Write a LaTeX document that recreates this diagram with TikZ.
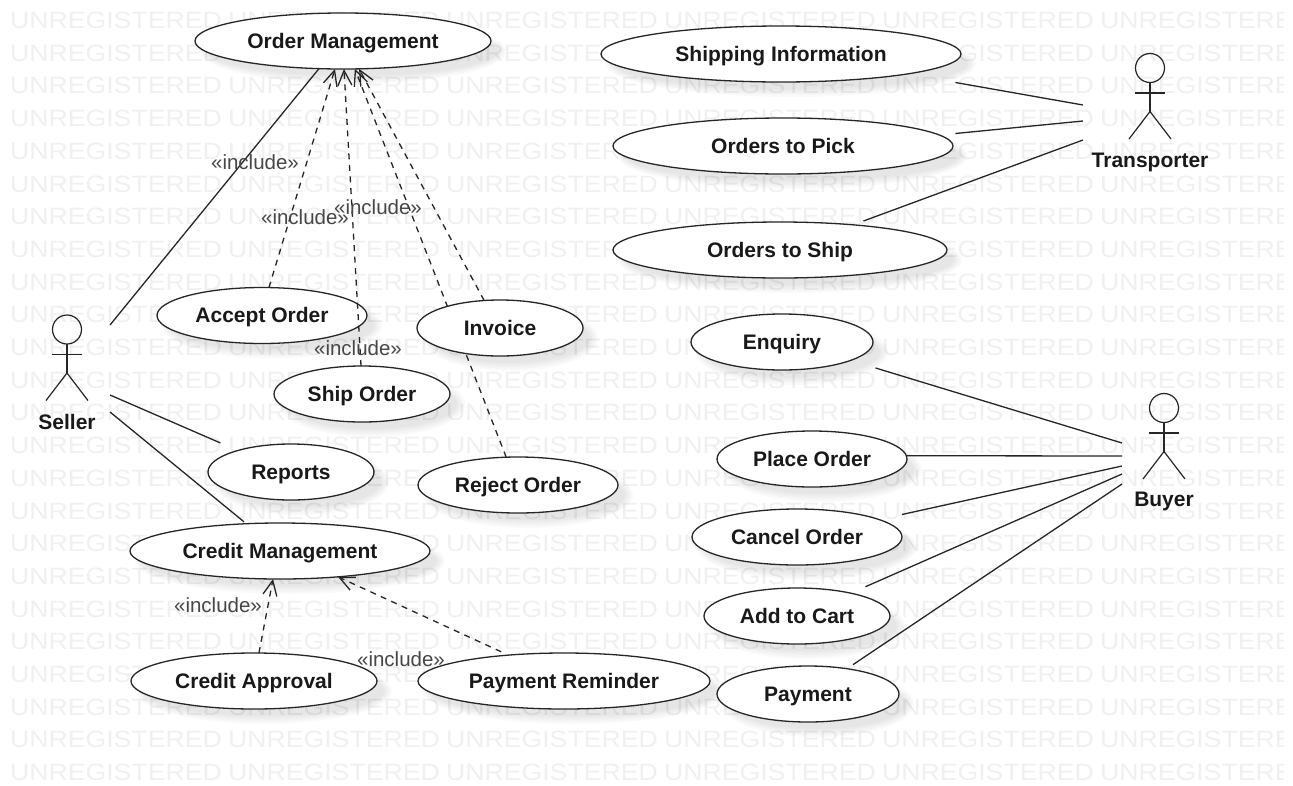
\documentclass[tikz,border=0pt]{standalone}
\usepackage{fontspec}
\setmainfont{Liberation Sans}
\newfontfamily\wmfont[FakeStretch=1.13]{Liberation Sans}
\usetikzlibrary{shapes.geometric,arrows.meta}
\pgfdeclarelayer{bg}
\pgfdeclarelayer{under}
\pgfsetlayers{bg,under,main}
\tikzset{
  wmtext/.style={inner sep=0pt,outer sep=0pt,anchor=base west,text=black!6,font=\wmfont\fontsize{23.6}{24}\selectfont},
  ucase/.style={shape=ellipse,draw=black!85,line width=1.3pt,fill=white,inner sep=0pt,outer sep=0pt,font=\bfseries\fontsize{21}{24}\selectfont,text=black!90},
  actorname/.style={inner sep=0pt,font=\bfseries\fontsize{21}{24}\selectfont,text=black!90},
  incl/.style={inner sep=0pt,text=black!72,font=\fontsize{20.5}{24}\selectfont},
  solidline/.style={draw=black!85,line width=1.3pt},
  includeline/.style={draw=black!85,line width=1.3pt,dash pattern=on 6pt off 5.5pt,-{Straight Barb[length=15pt,width=14pt,line width=1.3pt]}},
  figure/.style={draw=black!85,line width=1.2pt}
}
\newcommand{\ucnode}[6]{%
  \begin{pgfonlayer}{bg}
    \foreach \d in {5,3,1,-1,-3}{
      \fill[black,opacity=.018] ({#3+10},{#4+10}) ellipse [x radius={(#5+\d)*1pt},y radius={(#6+\d)*1pt}];
    }
  \end{pgfonlayer}
  \node[ucase,minimum width=#5*2pt,minimum height=#6*2pt] (#1) at (#3,#4) {\raisebox{-7.4pt}[0pt][0pt]{#2}};
}
\newcommand{\stickman}[2]{% cx, head cy
  \draw[figure] (#1,#2) ellipse [x radius=14.5pt,y radius=14.5pt];
  \draw[figure] (#1,#2+14.5) -- (#1,#2+43.5);
  \draw[figure] (#1-15,#2+25) -- (#1+15,#2+25);
  \draw[figure] (#1-21,#2+71) -- (#1,#2+43.5) -- (#1+21,#2+71);
}
\begin{document}
\begin{tikzpicture}[x=1pt,y=-1pt]
\useasboundingbox (0,0) rectangle (1293,785);
\begin{pgfonlayer}{bg}
  \fill[white] (0,0) rectangle (1293,785);
  \begin{scope}
    \clip (0,0) rectangle (1283,785);
    \foreach \r in {0,...,23}{
      \foreach \c in {0,...,5}{
        \node[wmtext] (wm-\r-\c) at ({10+218*\c},{28.5+32.7*\r}) {UNREGISTERED};
      }
    }
  \end{scope}
\end{pgfonlayer}

\ucnode{om}{Order Management}{343}{41}{148}{28}
\ucnode{shipinfo}{Shipping Information}{781}{54}{180}{28}
\ucnode{pick}{Orders to Pick}{783}{146}{170}{28}
\ucnode{toship}{Orders to Ship}{780}{250}{167}{28}
\ucnode{enquiry}{Enquiry}{782}{342}{91}{28}
\ucnode{place}{Place Order}{812}{459}{95}{28}
\ucnode{cancel}{Cancel Order}{797}{537}{105}{28}
\ucnode{cart}{Add to Cart}{797}{616}{93}{28}
\ucnode{payment}{Payment}{808}{694}{91}{28}
\ucnode{accept}{Accept Order}{262}{315.5}{105}{28}
\ucnode{invoice}{Invoice}{500}{328}{83}{28}
\ucnode{shiporder}{Ship Order}{362}{394}{88}{28}
\ucnode{reports}{Reports}{291}{472}{83}{28}
\ucnode{reject}{Reject Order}{518}{485}{100}{28}
\ucnode{credit}{Credit Management}{280}{551}{150}{28}
\ucnode{approval}{Credit Approval}{254}{681}{123}{28}
\ucnode{reminder}{Payment Reminder}{564}{681}{146}{28}

% actors
\stickman{67}{329.5}
\stickman{1150}{68}
\stickman{1164}{408}
\node[actorname] (seller) at (67,422) {Seller};
\node[actorname] (transporter) at (1150,162) {Transporter};
\node[actorname] (buyer) at (1164,501) {Buyer};

% free ends beside the actors
\coordinate (s1) at (110,325);
\coordinate (s2) at (110,395);
\coordinate (s3) at (110,412);
\coordinate (t1) at (1083,105);
\coordinate (t2) at (1083,121);
\coordinate (t3) at (1083,140);
\coordinate (b1) at (1122,443);
\coordinate (b2) at (1122,456);
\coordinate (b3) at (1122,466);
\coordinate (b4) at (1122,474);
\coordinate (b5) at (1122,484);

% associations
\draw[solidline] (s1) -- (om.229);
\draw[solidline,shorten >=19pt] (s2) -- (reports.158.2);
\draw[solidline,shorten >=3pt] (s3) -- (credit.141.4);
\draw[solidline,shorten <=49pt] (shipinfo.-9.2) -- (t1);
\draw[solidline,shorten <=16pt] (pick.4.7) -- (t2);
\draw[solidline,shorten <=11pt] (toship.19.4) -- (t3);
\draw[solidline,shorten <=26pt] (enquiry.-15.7) -- (b1);
\draw[solidline] (place.2) -- (b2);
\draw[solidline,shorten <=23.5pt] (cancel.12.2) -- (b3);
\draw[solidline,shorten <=16pt] (cart.23) -- (b4);
\draw[solidline,shorten <=7.3pt] (payment.33.3) -- (b5);

% includes
\draw[includeline] (accept.76) -- (om.254);
\draw[includeline] (shiporder.92) -- (om.272);
\draw[includeline] (invoice.120) -- (om.300);
\begin{pgfonlayer}{under}
  \draw[includeline] (reject.113) -- (om.293.2);
\end{pgfonlayer}
\draw[includeline] (approval.80) -- (credit.256);
\draw[includeline,shorten <=8pt] (reminder.155.6) -- (credit.-24.7);

% labels
\node[incl] (inc1) at (255,162) {«include»};
\node[incl] (inc2) at (305,217) {«include»};
\node[incl] (inc3) at (378,207) {«include»};
\node[incl] (inc4) at (358,348) {«include»};
\node[incl] (inc5) at (218,605) {«include»};
\node[incl] (inc6) at (401,659) {«include»};
\end{tikzpicture}
\end{document}
